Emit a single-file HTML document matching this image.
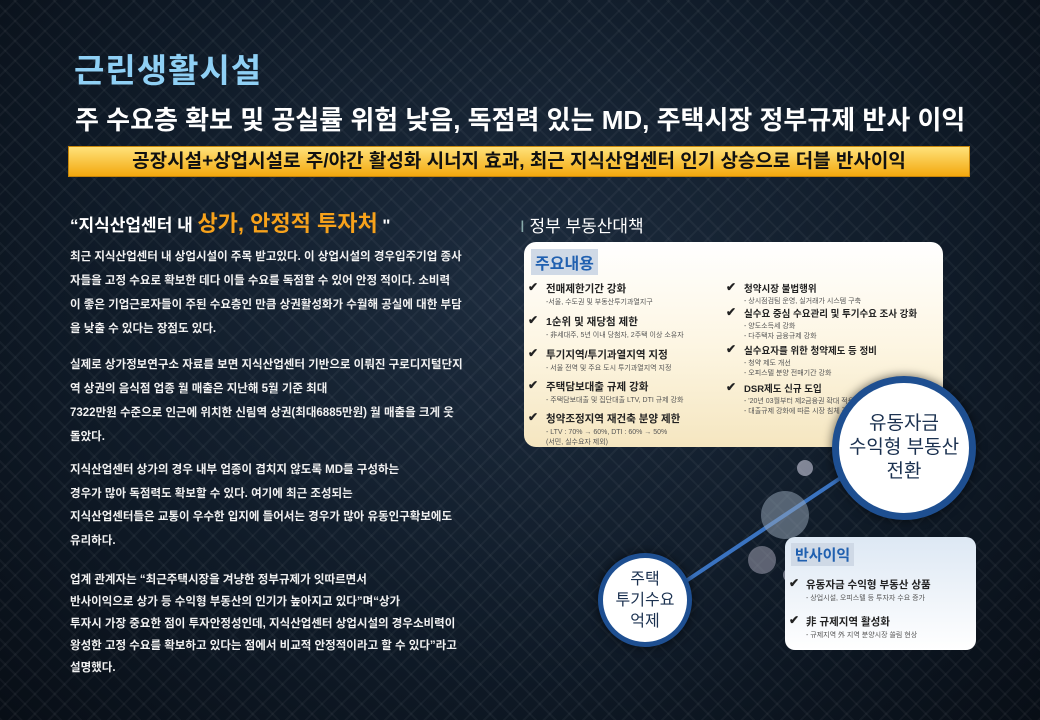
<!DOCTYPE html>
<html><head><meta charset="utf-8"><style>
*{margin:0;padding:0;box-sizing:border-box}
body{width:1040px;height:720px;overflow:hidden;position:relative;background:radial-gradient(ellipse at 50% 40%,#1d2c3e 0%,#0f1a27 60%,#080e16 100%);font-family:"Liberation Sans","Noto Sans CJK KR",sans-serif;color:#fff}
.pat{position:absolute;inset:0;background-image:repeating-linear-gradient(45deg,rgba(255,255,255,.04) 0 2px,transparent 2px 14px),repeating-linear-gradient(-45deg,rgba(255,255,255,.04) 0 2px,transparent 2px 14px)}
.a{position:absolute;white-space:nowrap}
.p{font-size:11.5px;font-weight:bold;line-height:24px;color:#f2f2f2}
.it{position:absolute;font-size:10.5px;font-weight:bold;color:#222;white-space:nowrap}
.it small{display:block;font-size:7px;font-weight:normal;color:#555;margin-top:2px;line-height:10px}
.ck{position:absolute;font-size:12px;color:#222;font-weight:bold}
.circ{position:absolute;border-radius:50%;background:#fff;border:7px solid #1e4f91;box-shadow:0 0 10px rgba(0,0,0,.6);display:flex;align-items:center;justify-content:center;text-align:center;color:#1b3150}
</style></head><body><div class="pat"></div>
<div class="a" style="left:74px;top:44px;font-size:33px;font-weight:bold;color:#8fd0f5;letter-spacing:1px">근린생활시설</div>
<div class="a" style="left:75px;top:100px;font-size:26px;font-weight:bold;color:#fff">주 수요층 확보 및 공실률 위험 낮음, 독점력 있는 MD, 주택시장 정부규제 반사 이익</div>
<div class="a" style="left:68px;top:146px;width:902px;height:31px;background:linear-gradient(#ffe27a,#f3a80e);border:1px solid #c8860a;text-align:center;font-size:19px;font-weight:bold;color:#111;line-height:30px">공장시설+상업시설로 주/야간 활성화 시너지 효과, 최근 지식산업센터 인기 상승으로 더블 반사이익</div>
<div class="a" style="left:70px;top:206px;font-size:17px;font-weight:bold;color:#fff">“지식산업센터 내 <span style="font-size:22px;color:#f7a21b">상가, 안정적 투자처</span> "</div>
<div class="a p" style="left:70px;top:245px">최근 지식산업센터 내 상업시설이 주목 받고있다. 이 상업시설의 경우입주기업 종사<br>자들을 고정 수요로 확보한 데다 이들 수요를 독점할 수 있어 안정 적이다. 소비력<br>이 좋은 기업근로자들이 주된 수요층인 만큼 상권활성화가 수월해 공실에 대한 부담<br>을 낮출 수 있다는 장점도 있다.</div>
<div class="a p" style="left:70px;top:353px">실제로 상가정보연구소 자료를 보면 지식산업센터 기반으로 이뤄진 구로디지털단지<br>역 상권의 음식점 업종 월 매출은 지난해 5월 기준 최대<br>7322만원 수준으로 인근에 위치한 신림역 상권(최대6885만원) 월 매출을 크게 웃<br>돌았다.</div>
<div class="a p" style="left:70px;top:459px;line-height:23.5px">지식산업센터 상가의 경우 내부 업종이 겹치지 않도록 MD를 구성하는<br>경우가 많아 독점력도 확보할 수 있다. 여기에 최근 조성되는<br>지식산업센터들은 교통이 우수한 입지에 들어서는 경우가 많아 유동인구확보에도<br>유리하다.</div>
<div class="a p" style="left:70px;top:569px;line-height:22px">업계 관계자는 “최근주택시장을 겨냥한 정부규제가 잇따르면서<br>반사이익으로 상가 등 수익형 부동산의 인기가 높아지고 있다”며“상가<br>투자시 가장 중요한 점이 투자안정성인데, 지식산업센터 상업시설의 경우소비력이<br>왕성한 고정 수요를 확보하고 있다는 점에서 비교적 안정적이라고 할 수 있다”라고<br>설명했다.</div>
<div class="a" style="left:520px;top:212px;font-size:17px;color:#fff"><span style="color:#8aa">I</span> 정부 부동산대책</div>
<div class="a" style="left:524px;top:242px;width:419px;height:205px;border-radius:12px;background:linear-gradient(#fff 0%,#fdf6e3 50%,#f5e6c0 100%)"></div>
<div class="a" style="left:531px;top:249px;padding:1px 4px;background:#cfd9e6;color:#2060b0;font-size:16px;font-weight:bold">주요내용</div>
<span class="ck" style="left:528px;top:280px">✔</span><div class="it" style="left:546px;top:281px">전매제한기간 강화<small>-서울, 수도권 및 부동산투기과열지구</small></div>
<span class="ck" style="left:528px;top:313px">✔</span><div class="it" style="left:546px;top:314px">1순위 및 재당첨 제한<small>- 非세대주, 5년 이내 당첨자, 2주택 이상 소유자</small></div>
<span class="ck" style="left:528px;top:346px">✔</span><div class="it" style="left:546px;top:347px">투기지역/투기과열지역 지정<small>- 서울 전역 및 주요 도시 투기과열지역 지정</small></div>
<span class="ck" style="left:528px;top:378px">✔</span><div class="it" style="left:546px;top:379px">주택담보대출 규제 강화<small>- 주택담보대출 및 집단대출 LTV, DTI 규제 강화</small></div>
<span class="ck" style="left:528px;top:410px">✔</span><div class="it" style="left:546px;top:411px">청약조정지역 재건축 분양 제한<small>- LTV : 70% → 60%, DTI : 60% → 50%<br>(서민, 실수요자 제외)</small></div>
<span class="ck" style="left:726px;top:280px">✔</span><div class="it" style="left:744px;top:281px;font-size:9.5px">청약시장 불법행위<small>- 상시점검팀 운영, 실거래가 시스템 구축</small></div>
<span class="ck" style="left:726px;top:305px">✔</span><div class="it" style="left:744px;top:306px;font-size:9.5px">실수요 중심 수요관리 및 투기수요 조사 강화<small>- 양도소득세 강화<br>- 다주택자 금융규제 강화</small></div>
<span class="ck" style="left:726px;top:342px">✔</span><div class="it" style="left:744px;top:343px;font-size:9.5px">실수요자를 위한 청약제도 등 정비<small>- 청약 제도 개선<br>- 오피스텔 분양 전매기간 강화</small></div>
<span class="ck" style="left:726px;top:380px">✔</span><div class="it" style="left:744px;top:381px;font-size:9.5px">DSR제도 신규 도입<small>- '20년 03월부터 제2금융권 확대 적용<br>- 대출규제 강화에 따른 시장 침체 장기화</small></div>
<svg class="a" style="left:0;top:0" width="1040" height="720"><line x1="680" y1="585" x2="860" y2="465" stroke="#3a73c0" stroke-width="4"/><circle cx="785" cy="515" r="24" fill="#9ab" opacity=".5"/><circle cx="805" cy="468" r="8" fill="#ccd" opacity=".6"/><circle cx="762" cy="560" r="14" fill="#aab" opacity=".5"/><circle cx="790" cy="575" r="7" fill="#ccd" opacity=".5"/></svg>
<div class="a" style="left:785px;top:537px;width:191px;height:113px;border-radius:10px;background:linear-gradient(#dde8f4,#fff)"></div>
<div class="a" style="left:791px;top:543px;padding:1px 4px;background:#cfd9e6;color:#2060b0;font-size:15px;font-weight:bold">반사이익</div>
<span class="ck" style="left:789px;top:576px">✔</span><div class="it" style="left:806px;top:577px;font-size:10.5px">유동자금 수익형 부동산 상품<small>- 상업시설, 오피스텔 등 투자자 수요 증가</small></div>
<span class="ck" style="left:789px;top:613px">✔</span><div class="it" style="left:806px;top:614px;font-size:10.5px">非 규제지역 활성화<small>- 규제지역 外 지역 분양시장 쏠림 현상</small></div>
<div class="circ" style="left:832px;top:376px;width:144px;height:144px;font-size:19px;line-height:24px">유동자금<br>수익형 부동산<br>전환</div>
<div class="circ" style="left:598px;top:553px;width:94px;height:94px;font-size:16px;line-height:21px;border-width:5px">주택<br>투기수요<br>억제</div>
</body></html>
